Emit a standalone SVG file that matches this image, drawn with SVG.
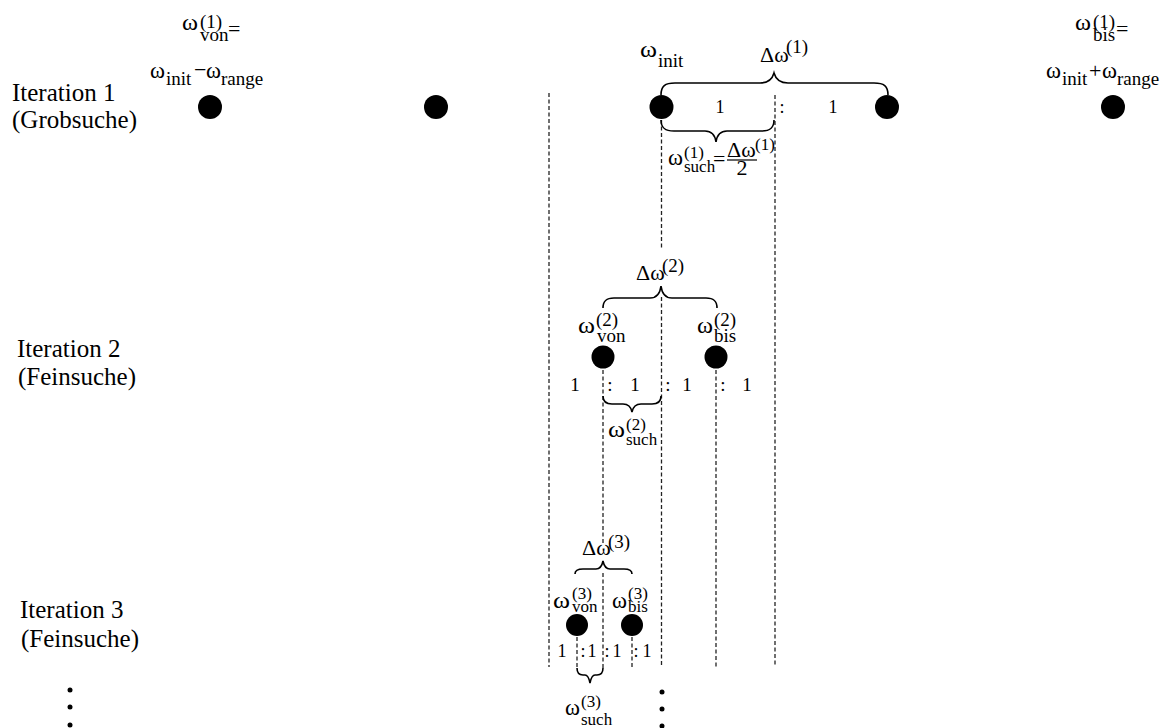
<svg xmlns="http://www.w3.org/2000/svg" width="1172" height="728" viewBox="0 0 1172 728">
<style>
text { font-family: "Liberation Serif", "Times New Roman", serif; fill: #000; }
.m { font-size: 22px; }
.w { font-size: 23px; }
.s { font-size: 19px; }
.t { font-size: 17px; }
.it { font-size: 25px; }
.r { font-size: 19px; text-anchor: middle; }
.r3 { font-size: 18px; text-anchor: middle; }
.d { stroke: #222; stroke-width: 1.3; stroke-dasharray: 4 2.5; fill: none; }
.b { stroke: #000; stroke-width: 1.6; fill: none; }
.dot { fill: #000; }
</style>
<rect width="1172" height="728" fill="#fff"/>

<g id="connectors">
  <path class="d" d="M549,93V667 M775,95V667 M661.5,120V250 M661.5,297V667 M603,370V545 M603,573V668 M716,370V667 M577,637V668 M632,637V667"/>
  <path class="b" d="M661,95 C661,86 665,83 675,83 L760,83 C768,83 772,80 774,73 C776,80 780,83 788,83 L874,83 C884,83 888,86 888,95"/>
  <path class="b" d="M661,120 C661,128 665,131 674,131 L705,131 C712,131 715,135 716,142 C717,135 720,131 727,131 L761,131 C770,131 774,128 774,120"/>
  <path class="b" d="M603,308 C603,301 606,298 614,298 L650,298 C656,298 660,294 661,286 C662,294 666,298 672,298 L706,298 C714,298 717,301 717,308"/>
  <path class="b" d="M603,396 C603,401 606,404 612,404 L623,404 C628,404 631,407 632,412 C633,407 636,404 641,404 L652,404 C658,404 661,401 661,396"/>
  <path class="b" d="M575,574 C575,570 578,569 583,569 L596,569 C600,569 602,566 603,561 C604,566 606,569 610,569 L624,569 C629,569 632,570 632,574"/>
  <path class="b" d="M577,668 C577,673 579,675 583,675 L585,675 C588,675 589,678 590,683 C591,678 592,675 595,675 L597,675 C601,675 603,673 603,668"/>
</g>

<g id="labels-iterations">
  <text class="it" x="12" y="101">Iteration 1</text>
  <text class="it" x="12" y="128">(Grobsuche)</text>
  <text class="it" x="17" y="357">Iteration 2</text>
  <text class="it" x="18" y="385">(Feinsuche)</text>
  <text class="it" x="20" y="618">Iteration 3</text>
  <text class="it" x="21" y="647">(Feinsuche)</text>
</g>

<g id="node-von1">
  <circle class="dot" cx="210" cy="107" r="12"/>
  <text class="w" x="182" y="30" textLength="16" lengthAdjust="spacingAndGlyphs">ω</text>
  <text class="s" x="200" y="28">(1)</text>
  <text class="s" x="200" y="41">von</text>
  <text class="m" x="228" y="36">=</text>
  <text class="w" x="150" y="78" textLength="15" lengthAdjust="spacingAndGlyphs">ω</text>
  <text class="s" x="166" y="85">init</text>
  <text class="m" x="194" y="77">−</text>
  <text class="w" x="206" y="78" textLength="15" lengthAdjust="spacingAndGlyphs">ω</text>
  <text class="s" x="221" y="85" font-size="21">range</text>
</g>

<g id="node-p2"><circle class="dot" cx="436" cy="107" r="12"/></g>

<g id="node-init">
  <circle class="dot" cx="661.5" cy="107" r="12"/>
  <text class="w" x="640" y="57" textLength="17" lengthAdjust="spacingAndGlyphs">ω</text>
  <text class="s" x="658" y="67">init</text>
  <text class="m" x="760" y="62">Δω</text>
  <text class="s" x="786" y="53">(1)</text>
  <text class="r3" x="720" y="113">1</text>
  <text class="r3" x="782" y="113">:</text>
  <text class="r3" x="833" y="113">1</text>
  <text class="w" x="668" y="165" textLength="15" lengthAdjust="spacingAndGlyphs">ω</text>
  <text class="t" x="684" y="158">(1)</text>
  <text class="t" x="684" y="172">such</text>
  <text class="m" x="713" y="166">=</text>
  <text class="m" x="727" y="157">Δω</text>
  <text class="t" x="755" y="150" font-size="15">(1)</text>
  <line x1="727" y1="160" x2="757" y2="160" stroke="#000" stroke-width="1.2"/>
  <text class="m" x="742" y="175" text-anchor="middle">2</text>
</g>

<g id="node-p4"><circle class="dot" cx="887" cy="107" r="12"/></g>

<g id="node-bis1">
  <circle class="dot" cx="1113" cy="107" r="12"/>
  <text class="w" x="1075" y="30" textLength="16" lengthAdjust="spacingAndGlyphs">ω</text>
  <text class="s" x="1093" y="28">(1)</text>
  <text class="s" x="1093" y="41">bis</text>
  <text class="m" x="1116" y="36">=</text>
  <text class="w" x="1046" y="78" textLength="15" lengthAdjust="spacingAndGlyphs">ω</text>
  <text class="s" x="1062" y="85">init</text>
  <text class="m" x="1089" y="78">+</text>
  <text class="w" x="1102" y="78" textLength="15" lengthAdjust="spacingAndGlyphs">ω</text>
  <text class="s" x="1117" y="85" font-size="21">range</text>
</g>

<g id="node-iter2">
  <text class="m" x="636" y="280">Δω</text>
  <text class="s" x="662" y="272">(2)</text>
  <circle class="dot" cx="603" cy="357" r="11.5"/>
  <circle class="dot" cx="716" cy="357" r="11.5"/>
  <text class="w" x="578" y="333" textLength="17" lengthAdjust="spacingAndGlyphs">ω</text>
  <text class="s" x="596" y="326">(2)</text>
  <text class="s" x="597" y="342">von</text>
  <text class="w" x="697" y="333" textLength="16" lengthAdjust="spacingAndGlyphs">ω</text>
  <text class="s" x="714" y="326">(2)</text>
  <text class="s" x="714" y="342">bis</text>
  <text class="r" x="575" y="391">1</text>
  <text class="r" x="610" y="391">:</text>
  <text class="r" x="635" y="391">1</text>
  <text class="r" x="668" y="391">:</text>
  <text class="r" x="687" y="391">1</text>
  <text class="r" x="723" y="391">:</text>
  <text class="r" x="747" y="391">1</text>
  <text class="w" x="608" y="437" textLength="17" lengthAdjust="spacingAndGlyphs">ω</text>
  <text class="t" x="626" y="430">(2)</text>
  <text class="t" x="626" y="445">such</text>
</g>

<g id="node-iter3">
  <text class="m" x="582" y="555">Δω</text>
  <text class="s" x="608" y="548">(3)</text>
  <circle class="dot" cx="577" cy="625" r="11"/>
  <circle class="dot" cx="632" cy="625" r="11"/>
  <text class="w" x="553" y="608" textLength="17" lengthAdjust="spacingAndGlyphs">ω</text>
  <text class="t" x="572" y="599">(3)</text>
  <text class="t" x="572" y="612">von</text>
  <text class="w" x="612" y="608" textLength="15" lengthAdjust="spacingAndGlyphs">ω</text>
  <text class="t" x="628" y="599">(3)</text>
  <text class="t" x="628" y="612">bis</text>
  <text class="r3" x="562" y="657">1</text>
  <text class="r3" x="583" y="657">:</text>
  <text class="r3" x="592" y="657">1</text>
  <text class="r3" x="607" y="657">:</text>
  <text class="r3" x="617" y="657">1</text>
  <text class="r3" x="636" y="657">:</text>
  <text class="r3" x="647" y="657">1</text>
  <text class="w" x="565" y="715" textLength="15" lengthAdjust="spacingAndGlyphs">ω</text>
  <text class="t" x="581" y="707">(3)</text>
  <text class="t" x="581" y="725">such</text>
</g>

<g id="continuation">
  <circle class="dot" cx="70" cy="690" r="2.5"/>
  <circle class="dot" cx="70" cy="707" r="2.5"/>
  <circle class="dot" cx="70" cy="725" r="2.5"/>
  <circle class="dot" cx="662" cy="692" r="2.5"/>
  <circle class="dot" cx="662" cy="709" r="2.5"/>
  <circle class="dot" cx="662" cy="726" r="2.5"/>
</g>
</svg>
